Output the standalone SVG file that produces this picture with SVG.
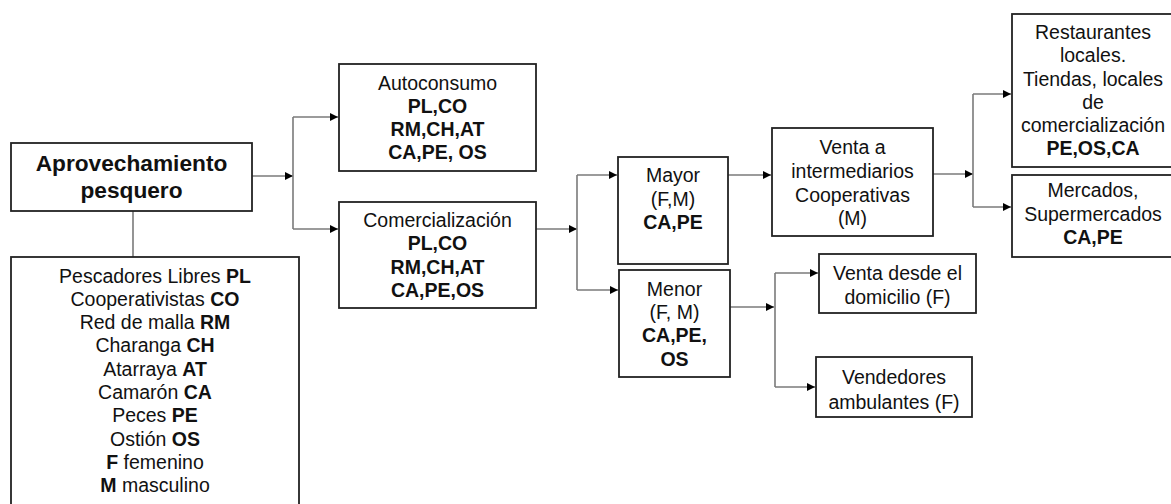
<svg xmlns="http://www.w3.org/2000/svg" width="1171" height="504" viewBox="0 0 1171 504">
<defs>
<style>
.box{fill:#fff;stroke:#222;stroke-width:1.8}
.t{font-family:"Liberation Sans",Arial,sans-serif;font-size:19.5px;fill:#111;text-anchor:middle}
.b{font-weight:bold}
.h{font-family:"Liberation Sans",Arial,sans-serif;font-size:22.7px;font-weight:bold;fill:#111;text-anchor:middle}
.c{fill:none;stroke:#7a7a7a;stroke-width:1.6}
</style>
<marker id="ar" viewBox="0 0 10 10" refX="10" refY="5" markerWidth="10" markerHeight="8" markerUnits="userSpaceOnUse" orient="auto">
<path d="M0,0 L10,5 L0,10 z" fill="#000"/>
</marker>
</defs>
<rect width="1171" height="504" fill="#fff"/>

<g id="connectors">
<path class="c" d="M252,176 H293" marker-end="url(#ar)"/>
<path class="c" d="M293,117 V229"/>
<path class="c" d="M293,117 H338" marker-end="url(#ar)"/>
<path class="c" d="M293,229 H338" marker-end="url(#ar)"/>
<path class="c" d="M133,211 V257"/>
<path class="c" d="M536,229 H577" marker-end="url(#ar)"/>
<path class="c" d="M577,175 V290"/>
<path class="c" d="M577,175 H617" marker-end="url(#ar)"/>
<path class="c" d="M577,290 H618" marker-end="url(#ar)"/>
<path class="c" d="M728,175 H771" marker-end="url(#ar)"/>
<path class="c" d="M730,307 H774" marker-end="url(#ar)"/>
<path class="c" d="M775,273 V387"/>
<path class="c" d="M775,273 H818" marker-end="url(#ar)"/>
<path class="c" d="M775,387 H815" marker-end="url(#ar)"/>
<path class="c" d="M933,174 H973" marker-end="url(#ar)"/>
<path class="c" d="M973,94 V207"/>
<path class="c" d="M973,94 H1011" marker-end="url(#ar)"/>
<path class="c" d="M973,207 H1011" marker-end="url(#ar)"/>
</g>

<g id="n-aprovechamiento">
<rect class="box" x="11" y="143" width="241" height="68"/>
<text class="h" x="131.5" y="171">Aprovechamiento</text>
<text class="h" x="131.5" y="198">pesquero</text>
</g>

<g id="n-leyenda">
<rect class="box" x="11" y="257" width="288" height="260"/>
<text class="t" x="155" y="282.5">Pescadores Libres <tspan class="b">PL</tspan></text>
<text class="t" x="155" y="305.8">Cooperativistas <tspan class="b">CO</tspan></text>
<text class="t" x="155" y="329.1">Red de malla <tspan class="b">RM</tspan></text>
<text class="t" x="155" y="352.4">Charanga <tspan class="b">CH</tspan></text>
<text class="t" x="155" y="375.7">Atarraya <tspan class="b">AT</tspan></text>
<text class="t" x="155" y="399">Camarón <tspan class="b">CA</tspan></text>
<text class="t" x="155" y="422.3">Peces <tspan class="b">PE</tspan></text>
<text class="t" x="155" y="445.6">Ostión <tspan class="b">OS</tspan></text>
<text class="t" x="155" y="468.9"><tspan class="b">F</tspan> femenino</text>
<text class="t" x="155" y="492.2"><tspan class="b">M</tspan> masculino</text>
</g>

<g id="n-autoconsumo">
<rect class="box" x="339" y="64" width="197" height="107"/>
<text class="t" x="437.5" y="90">Autoconsumo</text>
<text class="t b" x="437.5" y="113">PL,CO</text>
<text class="t b" x="437.5" y="136">RM,CH,AT</text>
<text class="t b" x="437.5" y="159">CA,PE, OS</text>
</g>

<g id="n-comercializacion">
<rect class="box" x="339" y="202" width="197" height="106"/>
<text class="t" x="437.5" y="227">Comercialización</text>
<text class="t b" x="437.5" y="250">PL,CO</text>
<text class="t b" x="437.5" y="274">RM,CH,AT</text>
<text class="t b" x="437.5" y="297">CA,PE,OS</text>
</g>

<g id="n-mayor">
<rect class="box" x="618" y="157" width="110" height="107"/>
<text class="t" x="673" y="182">Mayor</text>
<text class="t" x="673" y="206">(F,M)</text>
<text class="t b" x="673" y="229">CA,PE</text>
</g>

<g id="n-menor">
<rect class="box" x="619" y="270" width="111" height="107"/>
<text class="t" x="674.5" y="296">Menor</text>
<text class="t" x="674.5" y="319">(F, M)</text>
<text class="t b" x="674.5" y="342">CA,PE,</text>
<text class="t b" x="674.5" y="366">OS</text>
</g>

<g id="n-venta-intermediarios">
<rect class="box" x="772" y="128" width="161" height="108"/>
<text class="t" x="852.5" y="154">Venta a</text>
<text class="t" x="852.5" y="178">intermediarios</text>
<text class="t" x="852.5" y="202">Cooperativas</text>
<text class="t" x="852.5" y="225">(M)</text>
</g>

<g id="n-venta-domicilio">
<rect class="box" x="819" y="254" width="157" height="59"/>
<text class="t" x="897.5" y="280">Venta desde el</text>
<text class="t" x="897.5" y="304">domicilio (F)</text>
</g>

<g id="n-vendedores">
<rect class="box" x="816" y="357" width="156" height="60"/>
<text class="t" x="894" y="384">Vendedores</text>
<text class="t" x="894" y="409">ambulantes (F)</text>
</g>

<g id="n-restaurantes">
<rect class="box" x="1012" y="14" width="165" height="153"/>
<text class="t" x="1093" y="39">Restaurantes</text>
<text class="t" x="1093" y="62">locales.</text>
<text class="t" x="1093" y="86">Tiendas, locales</text>
<text class="t" x="1093" y="109">de</text>
<text class="t" x="1093" y="132">comercialización</text>
<text class="t b" x="1093" y="155">PE,OS,CA</text>
</g>

<g id="n-mercados">
<rect class="box" x="1012" y="175" width="165" height="82"/>
<text class="t" x="1093" y="197">Mercados,</text>
<text class="t" x="1093" y="221">Supermercados</text>
<text class="t b" x="1093" y="244">CA,PE</text>
</g>
</svg>
